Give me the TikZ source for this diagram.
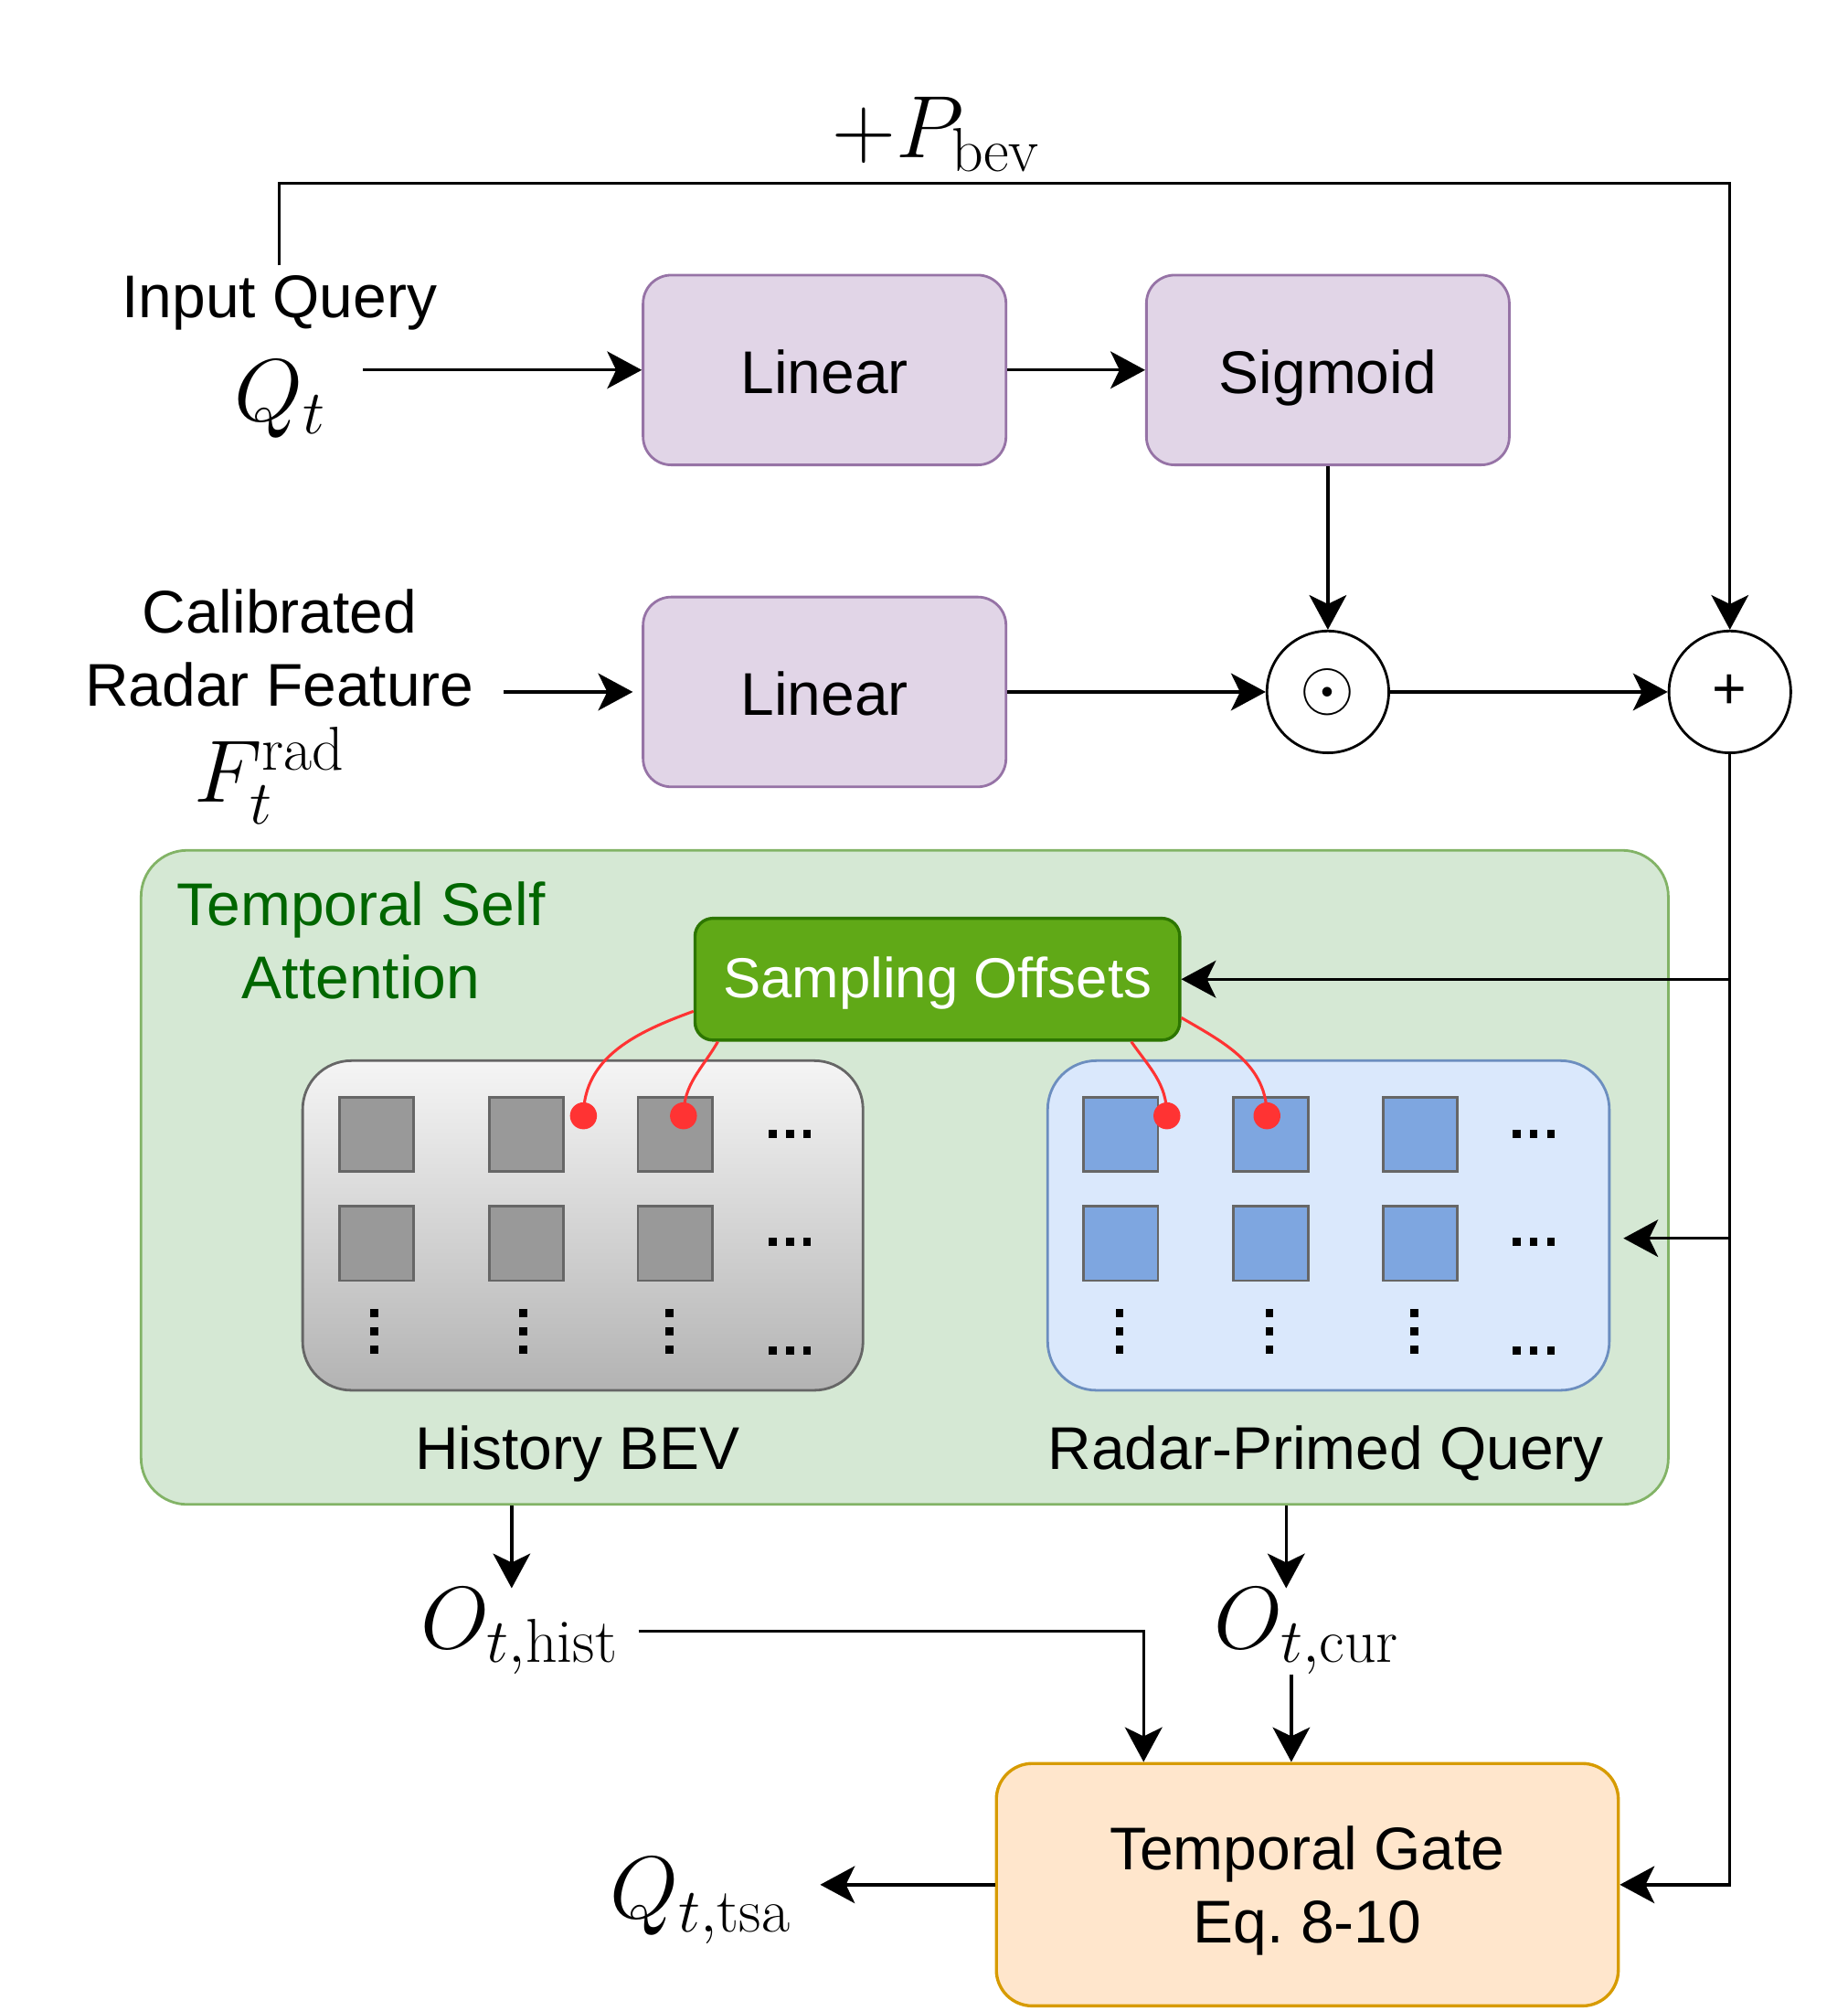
\RequirePackage{fix-cm}
\documentclass[tikz,border=0pt]{standalone}
\usepackage{amsmath}
\usepackage{fontspec}
\newfontfamily\helv{Liberation Sans}
\usetikzlibrary{arrows.meta, positioning, calc}

\definecolor{linFill}{HTML}{E1D5E7}
\definecolor{linDraw}{HTML}{9673A6}
\definecolor{tsaFill}{HTML}{D5E8D4}
\definecolor{tsaDraw}{HTML}{82B366}
\definecolor{tsaText}{HTML}{006600}
\definecolor{soFill}{HTML}{60A917}
\definecolor{soDraw}{HTML}{2D7600}
\definecolor{histTop}{HTML}{F5F5F5}
\definecolor{histBot}{HTML}{B3B3B3}
\definecolor{cellDraw}{HTML}{666666}
\definecolor{histCell}{HTML}{999999}
\definecolor{curFill}{HTML}{DAE8FC}
\definecolor{curDraw}{HTML}{6C8EBF}
\definecolor{curCell}{HTML}{7EA6E0}
\definecolor{gateFill}{HTML}{FFE6CC}
\definecolor{gateDraw}{HTML}{D79B00}
\definecolor{offRed}{HTML}{FF3333}

\newcommand{\diagfont}{\helv\fontsize{47}{57}\selectfont}
\newcommand{\diagmath}{\fontsize{69}{76}\selectfont}

\tikzset{
  block/.style={draw=linDraw, fill=linFill, line width=2pt, rounded corners=22pt,
    minimum width=283pt, minimum height=148pt, font=\diagfont, inner sep=0pt,
    text height=37pt, text depth=0pt},
  opnode/.style={circle, draw, line width=2pt, minimum size=95pt, inner sep=0pt},
  cell/.style={draw=cellDraw, line width=2pt, minimum width=58pt, minimum height=58pt, inner sep=0pt},
  flow/.style={-{Stealth[length=27pt,width=29pt,inset=7pt]}, line width=2.4pt},
  offset/.style={offRed, line width=2.2pt},
  lbl/.style={font=\diagfont, align=center, inner sep=0pt},
  sym/.style={font=\diagmath, inner sep=0pt},
}

\begin{document}
\begin{tikzpicture}[x=1pt, y=-1pt]
  \useasboundingbox (0,0) rectangle (1441,1568);

  % inputs and gating branch
  \node[lbl, anchor=base] (inq) at (218,248) {Input Query};
  \node[sym] (qt) at (218,311) {$Q_t$};
  \node[block] (lin1) at (643,288.5) {Linear};
  \node[block] (sig) at (1035.5,288.5) {Sigmoid};
  \node[lbl] (cal) at (218,505) {Calibrated\\Radar Feature};
  \node[sym] (frad) at (210,605) {$F_t^{\mathrm{rad}}$};
  \node[block] (lin2) at (643,539.5) {Linear};
  \node[opnode] (mul) at (1035.5,539.5) {\fontsize{55}{55}\selectfont$\odot$};
  \node[opnode] (add) at (1349,539.5) {\helv\fontsize{46}{46}\selectfont +};
  \node[sym] (pbev) at (730,105) {$+P_{\mathrm{bev}}$};
  \coordinate (qtout) at (283,288.5);
  \coordinate (calout) at (393,539.5);

  % temporal self attention block
  \node[draw=tsaDraw, fill=tsaFill, line width=2pt, rounded corners=36pt,
    minimum width=1191pt, minimum height=510pt] (tsa) at (705.5,918) {};
  \node[lbl, text=tsaText] (tsatitle) at (281.5,733.5) {Temporal Self\\Attention};
  \node[draw=cellDraw, top color=histTop, bottom color=histBot, line width=2pt,
    rounded corners=38pt, minimum width=437pt, minimum height=257pt] (hist) at (454.5,955.5) {};
  \node[draw=curDraw, fill=curFill, line width=2pt,
    rounded corners=38pt, minimum width=438pt, minimum height=257pt] (cur) at (1036,955.5) {};
  \foreach \x [count=\i] in {293.5,410.5,526.5}
    \foreach \y [count=\j] in {884.5,969.5}
      \node[cell, fill=histCell] (hc\i\j) at (\x,\y) {};
  \foreach \x [count=\i] in {874,991,1107.5}
    \foreach \y [count=\j] in {884.5,969.5}
      \node[cell, fill=curCell] (cc\i\j) at (\x,\y) {};
  % dots
  \foreach \x in {616,1196}
    \foreach \y in {884,968,1053}
      \foreach \d in {-13.3,0,13.3}
        \fill (\x+\d-3,\y-3.2) rectangle ++(6,6.4);
  \foreach \x in {292,408,522,873,990,1103}
    \foreach \d in {-14,0,14}
      \fill (\x-3,1038+\d-3.2) rectangle ++(6,6.4);
  \node[lbl, anchor=base] (histlbl) at (450.5,1146) {History BEV};
  \node[lbl, anchor=base] (curlbl) at (1034,1146) {Radar-Primed Query};
  \node[draw=soDraw, fill=soFill, line width=2.4pt, rounded corners=14pt,
    minimum width=378pt, minimum height=95pt, text=white, inner sep=0pt,
    font=\helv\fontsize{44}{50}\selectfont, text height=29pt, text depth=0pt]
    (so) at (731,763.5) {Sampling Offsets};

  % sampling points
  \coordinate (p1) at (455,870);
  \coordinate (p2) at (533,870);
  \coordinate (p3) at (910,870);
  \coordinate (p4) at (988,870);
  \draw[offset] ([yshift=-25pt]so.west) to[out=200,in=90] (p1);
  \draw[offset] ([xshift=19pt]so.south west) to[out=240,in=90] (p2);
  \draw[offset] ([xshift=-39pt]so.south east) to[out=-55,in=90] (p3);
  \draw[offset] ([yshift=-30pt]so.east) to[out=-30,in=90] (p4);
  \foreach \p in {p1,p2,p3,p4}
    \fill[offRed] (\p) circle (10.5);

  % outputs
  \node[sym] (ohist) at (405,1272) {$O_{t,\mathrm{hist}}$};
  \node[sym] (ocur) at (1019,1272) {$O_{t,\mathrm{cur}}$};
  \node[draw=gateDraw, fill=gateFill, line width=2.4pt, rounded corners=28pt,
    minimum width=485pt, minimum height=189pt, lbl, text depth=0pt]
    (gate) at (1019.5,1469.5) {Temporal Gate\\Eq.\ 8-10};
  \node[sym] (qtsa) at (546,1482) {$Q_{t,\mathrm{tsa}}$};

  % connectors
  \draw[flow] (qtout) -- (lin1.west);
  \draw[flow] (lin1) -- (sig);
  \draw[flow] (sig) -- (mul);
  \draw[flow] (calout) -- ([xshift=-7pt]lin2.west);
  \draw[flow] (lin2) -- (mul);
  \draw[flow] (mul) -- (add);
  \draw[line width=2pt, -{Stealth[length=27pt,width=29pt,inset=7pt]}]
    ([yshift=8pt]inq.north) -- ++(0,-64) -| (add.north);
  \draw[flow] (add.south) |- (gate.east);
  \draw[flow] (add.south |- so.east) -- (so.east);
  \draw[flow] ([yshift=-10pt]add.south |- cur.east) -- ([xshift=10pt,yshift=-10pt]cur.east);
  \draw[flow] ([xshift=-6pt]ohist.north |- tsa.south) -- ([xshift=-6pt]ohist.north);
  \draw[flow] ([xshift=-16pt]ocur.north |- tsa.south) -- ([xshift=-16pt]ocur.north);
  \draw[flow] ([xshift=16pt]ohist.east) -| ([xshift=116pt]gate.north west);
  \draw[flow] ([xshift=-12pt]ocur.south) -- ([xshift=-12pt]ocur.south |- gate.north);
  \draw[flow] (gate.west) -- ([xshift=23pt]qtsa.east |- gate.west);
\end{tikzpicture}
\end{document}
